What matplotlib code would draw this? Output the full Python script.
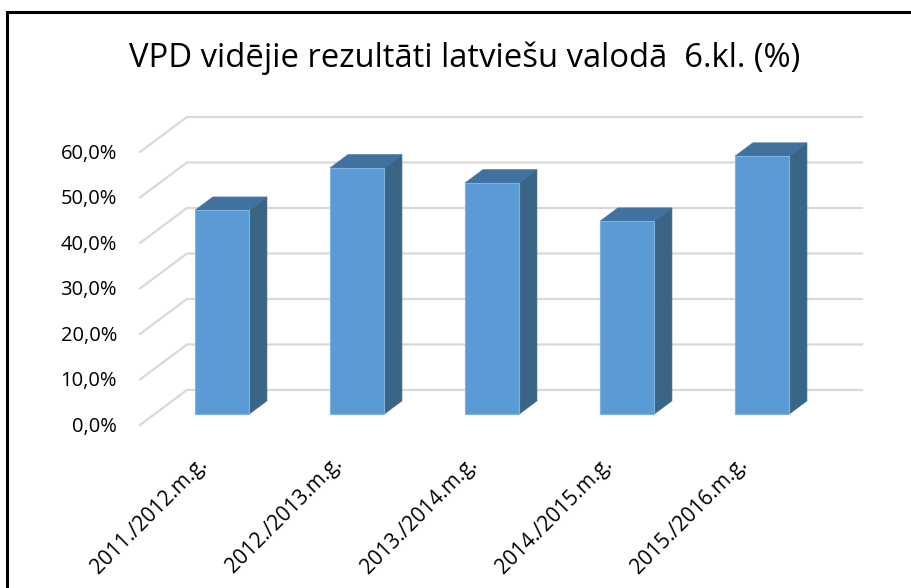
import matplotlib
matplotlib.use("Agg")
import matplotlib.pyplot as plt
from matplotlib.patches import Polygon

# data
years = ["2011./2012.m.g.", "2012./2013.m.g.", "2013./2014.m.g.",
         "2014./2015.m.g.", "2015./2016.m.g."]
results = [44.8, 54.1, 50.8, 42.4, 56.7]
yticks = [0, 10, 20, 30, 40, 50, 60]
ytick_labels = ["0,0%", "10,0%", "20,0%", "30,0%", "40,0%", "50,0%", "60,0%"]
title = "VPD vidējie rezultāti latviešu valodā  6.kl. (%)"

# oblique 3d look: depth d in [0, 1] shifts by (DX, DY) in data units
DX = 0.348
DY = 7.7
d0, d1 = 0.31, 0.69
bw = 0.4

front = "#5B9BD5"
side = "#3B6587"
top = "#41729F"
grid_c = "#D9D9D9"

def proj(x, y, d):
    return (x + d * DX, y + d * DY)

fig = plt.figure(figsize=(9.11, 5.88), dpi=100)
ax = fig.add_axes([0, 0, 1, 1])
ax.set_xlim(-0.5 - 140 / 135, -0.5 + (911 - 140) / 135)
ax.set_ylim(-(588 - 425) / 4.55, 425 / 4.55)
ax.axis("off")

# gridlines: slanted side part plus back wall horizontal part
for v in yticks:
    x0, y0 = proj(-0.5, v, 0)
    x1, y1 = proj(-0.5, v, 1)
    x2, y2 = proj(4.5, v, 1)
    ax.plot([x0, x1, x2], [y0, y1, y2], color=grid_c, lw=1.6,
            solid_joinstyle="miter", zorder=1)

# bars
for i, val in enumerate(results):
    l, r = i - bw / 2, i + bw / 2
    fl = proj(l, 0, d0)
    fr = proj(r, 0, d0)
    ftr = proj(r, val, d0)
    ftl = proj(l, val, d0)
    br = proj(r, 0, d1)
    btr = proj(r, val, d1)
    btl = proj(l, val, d1)
    ax.add_patch(Polygon([fr, br, btr, ftr], closed=True, fc=side,
                         ec=side, lw=0.5, zorder=3))
    ax.add_patch(Polygon([ftl, ftr, btr, btl], closed=True, fc=top,
                         ec=top, lw=0.5, zorder=3))
    ax.add_patch(Polygon([fl, fr, ftr, ftl], closed=True, fc=front,
                         ec="#7FB2E0", lw=0.8, zorder=4))

# y tick labels
for v, lab in zip(yticks, ytick_labels):
    ax.text(-0.5 - 23 / 135, v - 0.4, lab, ha="right", va="center",
            fontsize=14.5, family="Open Sans", color="black")

# category labels
for i, lab in enumerate(years):
    ax.text(i - 0.08, -6.2, lab, rotation=45, rotation_mode="anchor",
            ha="right", va="top", fontsize=15, family="Open Sans",
            color="black")

ax.text(1.907, 80.6, title, ha="center", va="center", fontsize=23.6,
        family="Open Sans", color="black")

# chart border (left and top visible)
ax.plot([-0.5 - 133 / 135, -0.5 - 133 / 135, 10],
        [-60, 413 / 4.55, 413 / 4.55], color="black", lw=2.2,
        solid_joinstyle="miter", clip_on=False, zorder=5)

plt.savefig("out.png", dpi=100)
